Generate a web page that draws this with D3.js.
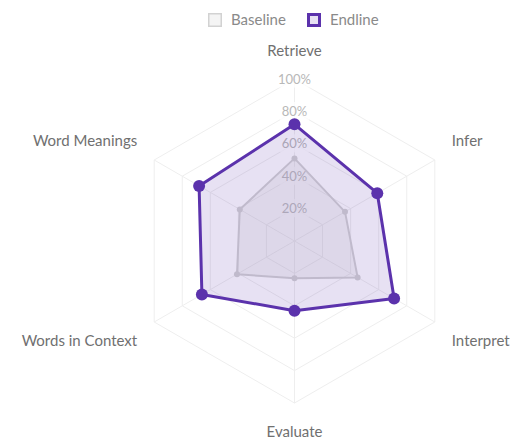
<!DOCTYPE html>
<html>
<head>
<meta charset="utf-8">
<script src="https://cdn.jsdelivr.net/npm/d3@7"></script>
<style>
html,body{margin:0;padding:0;background:#fff;}
svg{display:block;font-family:Lato, "Open Sans", sans-serif;}
</style>
</head>
<body>
<svg id="chart" width="520" height="442"></svg>
<script>
const categories = ["Retrieve", "Infer", "Interpret", "Evaluate", "Words in Context", "Word Meanings"];
const baselineValues = [51, 36, 45, 23, 41, 39];
const endlineValues = [72, 59, 71, 43, 66, 68];
const tickValues = [20, 40, 60, 80, 100];
const tickLabels = ["20%", "40%", "60%", "80%", "100%"];
const seriesNames = ["Baseline", "Endline"];

const W = 520, H = 442;
const cx = 294.5, cy = 241, R = 162;
const purple = "#5b32ac";
const svg = d3.select("#chart");

const r = d3.scaleLinear().domain([0, 100]).range([0, R]);
const angle = d3.scaleLinear().domain([0, categories.length]).range([0, 2 * Math.PI]);
const pt = (i, v) => [cx + r(v) * Math.sin(angle(i)), cy - r(v) * Math.cos(angle(i))];

const g = svg.append("g");

// grid hexagons
tickValues.forEach(t => {
  g.append("path")
    .attr("d", d3.line()(categories.map((c, i) => pt(i, t))) + "Z")
    .attr("fill", "none").attr("stroke", "#eeeeee").attr("stroke-width", 1);
});
// angle lines
categories.forEach((c, i) => {
  const [x, y] = pt(i, 100);
  g.append("line").attr("x1", cx).attr("y1", cy).attr("x2", x).attr("y2", y)
    .attr("stroke", "#eeeeee").attr("stroke-width", 1);
});

// tick labels with backdrop
tickValues.forEach((t, k) => {
  const y = cy - r(t);
  const txt = g.append("text").attr("x", cx).attr("y", y).attr("dy", "0.35em")
    .attr("text-anchor", "middle").attr("font-size", 13).attr("fill", "#b8b8b8")
    .text(tickLabels[k]);
  const bb = txt.node().getBBox();
  g.insert("rect", () => txt.node())
    .attr("x", bb.x - 2).attr("y", bb.y - 1).attr("width", bb.width + 4).attr("height", bb.height + 2)
    .attr("fill", "rgba(255,255,255,0.75)");
});

// point labels
categories.forEach((c, i) => {
  const a = angle(i);
  const s = Math.sin(a), co = Math.cos(a);
  let x, y, anchor;
  if (Math.abs(s) < 0.01) {
    anchor = "middle"; x = cx;
    y = co > 0 ? cy - R - 28 : cy + R + 29;
  } else {
    anchor = s > 0 ? "start" : "end";
    x = cx + (R * Math.abs(s) + 17) * Math.sign(s);
    y = cy - co * R - Math.sign(co) * 19;
  }
  g.append("text").attr("x", x).attr("y", y).attr("dy", "0.35em")
    .attr("text-anchor", anchor).attr("font-size", 15).attr("fill", "#707070").text(c);
});

// datasets
const line = d3.line();
function drawSeries(vals, stroke, fill, sw, pr) {
  const pts = vals.map((v, i) => pt(i, v));
  g.append("path").attr("d", line(pts) + "Z")
    .attr("fill", fill).attr("stroke", stroke).attr("stroke-width", sw).attr("stroke-linejoin", "round");
  g.selectAll(null).data(pts).enter().append("circle")
    .attr("cx", d => d[0]).attr("cy", d => d[1]).attr("r", pr).attr("fill", stroke);
}
drawSeries(baselineValues, "#d2d2d2", "rgba(200,200,200,0.2)", 2, 3);
drawSeries(endlineValues, purple, "rgba(94,53,177,0.15)", 3, 6);

// legend
const leg = svg.append("g");
const items = [
  {name: seriesNames[0], x: 208, stroke: "#d2d2d2", fill: "rgba(200,200,200,0.2)", sw: 1.5},
  {name: seriesNames[1], x: 307, stroke: purple, fill: "rgba(94,53,177,0.15)", sw: 3}
];
items.forEach(it => {
  leg.append("rect").attr("x", it.x + it.sw / 2).attr("y", 13 + it.sw / 2)
    .attr("width", 14 - it.sw).attr("height", 14 - it.sw)
    .attr("fill", it.fill).attr("stroke", it.stroke).attr("stroke-width", it.sw);
  leg.append("text").attr("x", it.x + 23).attr("y", 20).attr("dy", "0.35em")
    .attr("font-size", 15).attr("fill", "#8a8a8a").text(it.name);
});
</script>
</body>
</html>
